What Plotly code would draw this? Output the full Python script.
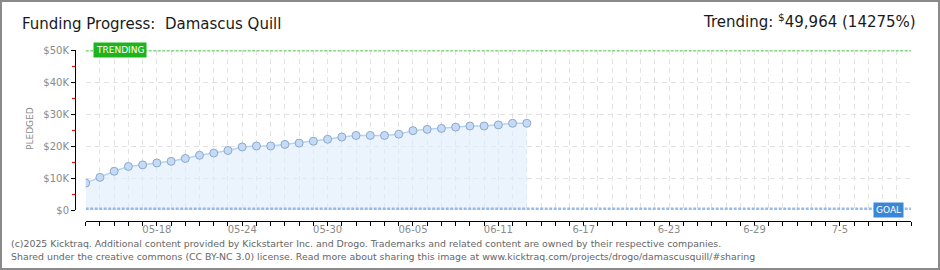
import plotly.graph_objects as go
import pandas as pd

# ---------------- data ----------------
dates = ["2025-05-13", "2025-05-14", "2025-05-15", "2025-05-16", "2025-05-17", "2025-05-18",
         "2025-05-19", "2025-05-20", "2025-05-21", "2025-05-22", "2025-05-23", "2025-05-24",
         "2025-05-25", "2025-05-26", "2025-05-27", "2025-05-28", "2025-05-29", "2025-05-30",
         "2025-05-31", "2025-06-01", "2025-06-02", "2025-06-03", "2025-06-04", "2025-06-05",
         "2025-06-06", "2025-06-07", "2025-06-08", "2025-06-09", "2025-06-10", "2025-06-11",
         "2025-06-12", "2025-06-13"]
pledged = [8400, 10200, 12100, 13600, 14100, 14700, 15200, 16100, 17100, 17800, 18600, 19700,
           20000, 20000, 20500, 20900, 21500, 22100, 22800, 23300, 23300, 23300, 23700, 24800,
           25200, 25500, 25900, 26250, 26250, 26600, 27100, 27100]
goal = 350
trending = 49964
trending_pct = 14275
x_start = "2025-05-13"
x_end = "2025-07-10"
label_dates = ["2025-05-18", "2025-05-24", "2025-05-30", "2025-06-05", "2025-06-11",
               "2025-06-17", "2025-06-23", "2025-06-29", "2025-07-05"]
label_texts = ["05-18", "05-24", "05-30", "06-05", "06-11", "6-17", "6-23", "6-29", "7-5"]
y_tickvals = [0, 10000, 20000, 30000, 40000, 50000]
y_ticktext = ["$0", "$10K", "$20K", "$30K", "$40K", "$50K"]
y_range = [0, 50000]
project = "Damascus Quill"

# ---------------- layout helpers ----------------
W, H = 940, 270
ML, MR, MT, MB = 76, 29, 50, 49
PW, PH = W - ML - MR, H - MT - MB


def px(x):
    return (x - ML) / PW


def py(y):
    return (H - MB - y) / PH


all_days = pd.date_range(x_start, x_end, freq="D")
tick_vals = [d.strftime("%Y-%m-%d") for d in all_days]
lab = dict(zip(label_dates, label_texts))
tick_text = [lab.get(v, "") for v in tick_vals]

grey = "#8a8a8a"
tickfont = dict(family="DejaVu Sans", size=10, color=grey)
title_font = dict(family="DejaVu Sans", size=15, color="#1a1a1a")

fig = go.Figure()

# fill + line + markers
fig.add_trace(go.Scatter(
    x=dates, y=pledged, mode="lines+markers",
    fill="tozeroy", fillcolor="rgba(222,236,252,0.6)",
    line=dict(color="#b6d3f2", width=1.5),
    marker=dict(size=8, color="#c3dbf6", line=dict(color="#8ea8c8", width=1)),
    hoverinfo="skip", showlegend=False, xaxis="x", yaxis="y"))

# goal & trending reference lines
fig.add_trace(go.Scatter(
    x=[x_start, x_end], y=[goal, goal], mode="lines",
    line=dict(color="#98bbe6", width=3, dash="3px,1.5px"),
    hoverinfo="skip", showlegend=False, xaxis="x", yaxis="y"))
fig.add_trace(go.Scatter(
    x=[x_start, x_end], y=[trending, trending], mode="lines",
    line=dict(color="#86d486", width=3, dash="3px,1.5px"),
    hoverinfo="skip", showlegend=False, xaxis="x", yaxis="y"))

# invisible copies so that the detached axis subplots get drawn
for xa, ya in (("x2", "y2"), ("x3", "y3")):
    fig.add_trace(go.Scatter(
        x=dates, y=pledged, mode="markers", marker=dict(opacity=0, size=1),
        hoverinfo="skip", showlegend=False, xaxis=xa, yaxis=ya))

x_dom = [px(85.7), 1]
y_dom = [py(210), 1]
hidden = dict(showgrid=False, zeroline=False, showticklabels=False,
              showline=False, ticks="")

fig.update_layout(
    width=W, height=H,
    margin=dict(l=ML, r=MR, t=MT, b=MB),
    paper_bgcolor="white", plot_bgcolor="white",
    # main data subplot: only grid
    xaxis=dict(type="date", range=[x_start, x_end], domain=x_dom, anchor="y",
               showline=False, showticklabels=False, ticks="",
               tickvals=tick_vals, showgrid=True, gridcolor="#e3e3e3",
               griddash="5px,4px", gridwidth=1, zeroline=False),
    yaxis=dict(range=y_range, domain=y_dom, anchor="x", showline=False,
               showticklabels=False, ticks="", tickvals=y_tickvals, showgrid=True,
               gridcolor="#e3e3e3", griddash="5px,4px", zeroline=False),
    # detached x axis (ticks + labels) below the plot
    xaxis2=dict(type="date", range=[x_start, x_end], domain=x_dom, anchor="y2",
                showline=True, linecolor="black", linewidth=1,
                tickvals=tick_vals, ticktext=tick_text, ticks="outside", ticklen=4,
                ticklabelstandoff=-5,
                tickcolor="black", tickfont=tickfont, showgrid=False, zeroline=False),
    yaxis2=dict(domain=[0, 0.01], anchor="x2", range=[-2, -1], **hidden),
    # detached y axis (ticks + labels) left of the plot
    yaxis3=dict(range=y_range, domain=y_dom, anchor="x3",
                showline=True, linecolor="black", linewidth=1,
                tickvals=y_tickvals, ticktext=y_ticktext, ticks="outside", ticklen=4,
                tickcolor="black", tickfont=tickfont, showgrid=False, zeroline=False,
                minor=dict(dtick=5000, tick0=0, ticks="outside", ticklen=3,
                           tickcolor="red", showgrid=False)),
    xaxis3=dict(domain=[0, 0.005], anchor="y3", type="date",
                range=["2000-01-01", "2000-01-02"], **hidden),
    font=dict(family="DejaVu Sans"),
)

ann = []
ann.append(dict(xref="paper", yref="paper", x=px(20), y=py(23.5), xanchor="left",
                yanchor="middle", showarrow=False,
                text="Funding Progress:\u00a0 " + project, font=title_font))
ann.append(dict(xref="paper", yref="paper", x=px(918), y=py(21), xanchor="right",
                yanchor="middle", showarrow=False,
                text=f"Trending: <sup>$</sup>{trending:,} ({trending_pct}%)",
                font=title_font))
ann.append(dict(xref="paper", yref="paper", x=px(30), y=py(129), xanchor="center",
                yanchor="middle", showarrow=False, textangle=-90, text="PLEDGED",
                font=dict(family="DejaVu Sans", size=9, color=grey)))
ann.append(dict(xref="paper", yref="y", x=px(93), y=trending, xanchor="left",
                yanchor="middle", showarrow=False, text="TRENDING",
                bgcolor="#1db41d", borderpad=2,
                font=dict(family="DejaVu Sans", size=9, color="white")))
ann.append(dict(xref="paper", yref="y", x=px(888), y=goal - 200, xanchor="center",
                yanchor="middle", showarrow=False, text="GOAL",
                bgcolor="#3a87d7", borderpad=2,
                font=dict(family="DejaVu Sans", size=9, color="white")))
foot_font = dict(family="DejaVu Sans", size=9.4, color="#666666")
ann.append(dict(xref="paper", yref="paper", x=px(9), y=py(243.5), xanchor="left",
                yanchor="middle", showarrow=False,
                text="(c)2025 Kicktraq. Additional content provided by Kickstarter Inc. and Drogo. "
                     "Trademarks and related content are owned by their respective companies.",
                font=foot_font))
ann.append(dict(xref="paper", yref="paper", x=px(9), y=py(256), xanchor="left",
                yanchor="middle", showarrow=False,
                text="Shared under the creative commons (CC BY-NC 3.0) license. Read more about "
                     "sharing this image at www.kicktraq.com/projects/drogo/damascusquill/#sharing",
                font=foot_font))
fig.update_layout(annotations=ann)

fig.add_shape(type="rect", xref="paper", yref="paper",
              x0=px(1), x1=px(939), y0=py(269), y1=py(1),
              line=dict(color="#8a8a8a", width=2), fillcolor="rgba(0,0,0,0)", layer="below")

fig.write_html("out.html")
